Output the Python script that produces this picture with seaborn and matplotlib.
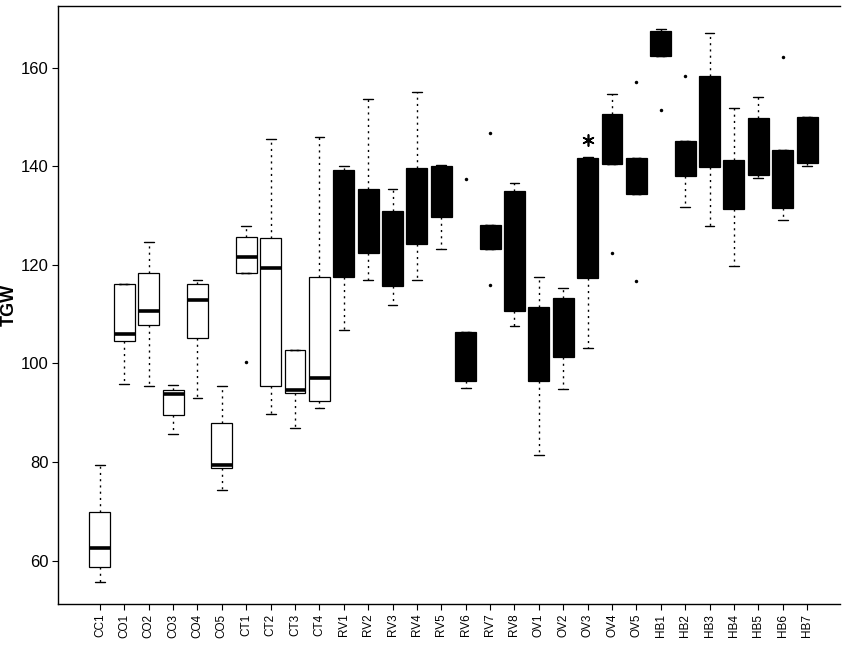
import numpy as np
import pandas as pd
import matplotlib
matplotlib.use("Agg")
import matplotlib.pyplot as plt
import seaborn as sns

categories = ["CC1", "CO1", "CO2", "CO3", "CO4", "CO5", "CT1", "CT2", "CT3", "CT4",
              "RV1", "RV2", "RV3", "RV4", "RV5", "RV6", "RV7", "RV8",
              "OV1", "OV2", "OV3", "OV4", "OV5",
              "HB1", "HB2", "HB3", "HB4", "HB5", "HB6", "HB7"]

# five-number summaries: whisker low, Q1, median, Q3, whisker high
whisker_low = [55.6, 95.9, 95.5, 85.6, 92.9, 74.4, 118.3, 89.7, 87.0, 90.9,
               106.8, 117.0, 111.8, 116.9, 123.3, 95.1, 123.2, 107.6,
               81.4, 94.8, 103.2, 140.4, 134.3,
               162.3, 131.8, 127.9, 119.8, 137.7, 129.0, 140.1]
q1 = [58.7, 104.5, 107.8, 89.5, 105.2, 78.8, 118.3, 95.5, 93.9, 92.4,
      117.6, 122.3, 115.7, 124.2, 129.6, 96.4, 123.2, 110.6,
      96.4, 101.3, 117.4, 140.4, 134.3,
      162.3, 138.1, 139.9, 131.4, 138.3, 131.6, 140.6]
median = [62.6, 106.0, 110.6, 93.8, 112.8, 79.4, 121.6, 119.4, 94.7, 97.1,
          129.7, 128.9, 117.0, 132.7, 136.8, 100.8, 125.5, 120.5,
          104.0, 107.0, 129.1, 147.0, 137.0,
          166.0, 141.0, 143.0, 135.8, 139.7, 136.0, 142.6]
q3 = [69.8, 116.1, 118.3, 94.6, 116.1, 88.0, 125.6, 125.4, 102.7, 117.6,
      139.2, 135.4, 131.0, 139.6, 140.1, 106.4, 128.0, 135.0,
      111.4, 113.3, 141.6, 150.5, 141.6,
      167.4, 145.1, 158.3, 141.2, 149.7, 143.3, 149.9]
whisker_high = [79.4, 116.1, 124.6, 95.6, 116.9, 95.4, 127.8, 145.6, 102.7, 145.9,
                140.1, 153.6, 135.3, 155.0, 140.3, 106.4, 128.0, 136.6,
                117.6, 115.3, 141.9, 154.6, 141.6,
                167.8, 145.1, 167.1, 151.8, 154.0, 143.3, 149.9]

outlier_groups = ["CT1", "RV6", "RV7", "RV7", "OV4", "OV5", "OV5", "HB1", "HB2", "HB6"]
outlier_values = [100.3, 137.4, 146.8, 116.0, 122.4, 157.1, 116.7, 151.4, 158.2, 162.1]
star_groups = ["OV3"]
star_values = [145.4]

y_ticks = [60, 80, 100, 120, 140, 160]

rows = []
for i, c in enumerate(categories):
    for v in (whisker_low[i], q1[i], median[i], q3[i], whisker_high[i]):
        rows.append({"group": c, "TGW": v})
df = pd.DataFrame(rows)
palette = {c: ("white" if c[:2] in ("CC", "CO", "CT") else "black") for c in categories}

out_df = pd.DataFrame({"group": outlier_groups, "TGW": outlier_values})
star_df = pd.DataFrame({"group": star_groups, "TGW": star_values})

sns.set_style("white")
plt.rcParams["font.family"] = ["Liberation Sans", "DejaVu Sans"]

fig = plt.figure(figsize=(8.42, 6.47), dpi=100)
ax = fig.add_axes([58 / 842, 43 / 647, (840 - 58) / 842, (604 - 6) / 647])

sns.boxplot(data=df, x="group", y="TGW", hue="group", palette=palette, order=categories,
            hue_order=categories, legend=False, whis=(0, 100), width=0.86, dodge=False,
            linecolor="black", linewidth=0.9, showfliers=False,
            medianprops={"color": "black", "linewidth": 2.6},
            whiskerprops={"linestyle": (0, (1.5, 3)), "linewidth": 1.0, "color": "black"},
            capprops={"linewidth": 1.0, "color": "black"}, ax=ax)

sns.stripplot(data=out_df, x="group", y="TGW", order=categories, jitter=False,
              color="black", size=2.5, ax=ax)
sns.stripplot(data=star_df, x="group", y="TGW", order=categories, jitter=False,
              color="black", size=8, marker=(6, 2, 0), linewidth=1.2, ax=ax)

# shrink caps to about 40% of box width
for ln in ax.lines:
    xd = np.asarray(ln.get_xdata(), dtype=float)
    yd = np.asarray(ln.get_ydata(), dtype=float)
    if len(xd) == 2 and len(yd) == 2 and yd[0] == yd[1] and ln.get_linewidth() < 1.5:
        c = xd.mean()
        half = (xd[1] - xd[0]) / 2
        if abs(half) < 0.3:
            ln.set_xdata([c - 0.2, c + 0.2])

ax.set_xlim(-1.72, 30.35)
ax.set_ylim(51.2, 172.5)
ax.set_yticks(y_ticks)
ax.set_yticklabels([str(t) for t in y_ticks], fontsize=12, color="black")
ax.set_xticks(range(len(categories)))
ax.set_xticklabels(categories, rotation=90, fontsize=8.5, color="black")
ax.set_xlabel("")
ax.set_ylabel("TGW", fontsize=13, fontweight="bold", color="black")
ax.yaxis.set_label_coords(-0.052, 0.5)
ax.tick_params(axis="both", direction="out", length=4, width=0.8, color="black",
               left=True, bottom=True, pad=3)
for s in ("left", "bottom", "top"):
    ax.spines[s].set_visible(True)
    ax.spines[s].set_color("black")
    ax.spines[s].set_linewidth(1.0)
ax.spines["right"].set_visible(False)

fig.savefig("out.png", dpi=100)
